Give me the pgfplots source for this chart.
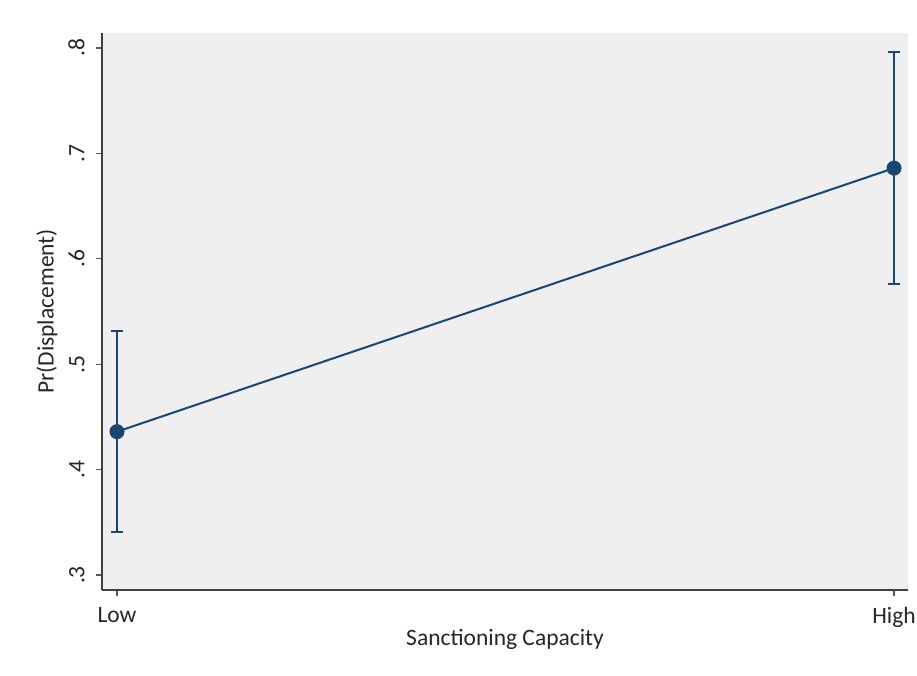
\documentclass[border=0pt]{standalone}
\usepackage{pgfplots}
\pgfplotsset{compat=1.18}
\usepackage{fontspec}
\setmainfont{Carlito}
\definecolor{stnavy}{HTML}{1A476F}
\definecolor{bgc}{HTML}{EFEFEF}
\definecolor{gridc}{HTML}{E6EEF1}
\begin{document}
\begin{tikzpicture}[x=1pt,y=1pt]
\useasboundingbox (-102,-85) rectangle (815,590);
\begin{axis}[
  at={(0,0)}, anchor=south west,
  scale only axis, width=806pt, height=557pt,
  xmin=-0.0193, xmax=1.018, ymin=0.2858, ymax=0.8142,
  axis background/.style={fill=bgc},
  axis x line=bottom, axis y line=left,
  x axis line style={-, draw=black!75, line width=1.2pt},
  y axis line style={-, draw=black!75, line width=1.2pt},
  tick align=outside, major tick length=6pt,
  tick style={draw=black!65, line width=1.2pt},
  xtick={0,1}, xticklabels={Low,High},
  ytick={0.3,0.4,0.5,0.6,0.7,0.8},
  yticklabels={.3,.4,.5,.6,.7,.8},
  yticklabel style={rotate=90, anchor=south, yshift=8pt},
  xticklabel style={yshift=-8pt},
  ymajorgrids, grid style={draw=gridc, line width=1pt},
  every tick label/.append style={font=\fontsize{23.5}{27}\selectfont, text=black!85},
  label style={font=\fontsize{23.5}{27}\selectfont, text=black!85},
  xlabel={Sanctioning Capacity},
  ylabel={Pr(Displacement)},
  xlabel style={at={(axis description cs:0.5,0)}, anchor=base, yshift=-55pt},
  ylabel style={at={(axis description cs:-0.0682,0.5)}, anchor=center},
  clip=false,
]
\addplot[stnavy, line width=2pt, mark=*, mark size=6.5pt,
  mark options={fill=stnavy, draw=stnavy},
  error bars/.cd, y dir=both, y explicit,
  error bar style={line width=2pt, draw=stnavy},
  error mark options={rotate=90, mark size=6pt, line width=2pt, draw=stnavy}]
  coordinates {
    (0,0.436) +- (0,0.0955)
    (1,0.686) +- (0,0.110)
  };
\end{axis}
\end{tikzpicture}
\end{document}
